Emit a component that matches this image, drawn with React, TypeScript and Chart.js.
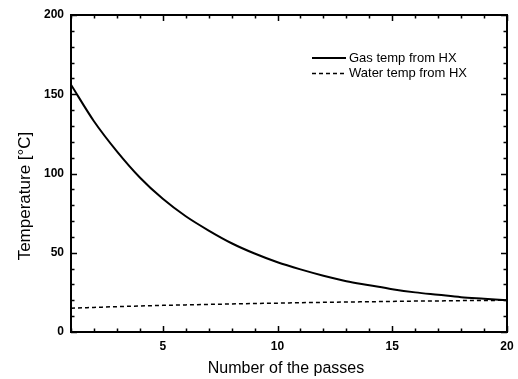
import React, { useEffect, useRef } from "react";
import { Chart, registerables } from "chart.js";

Chart.register(...registerables);

// Number of passes through the heat exchanger
const passes = [1, 2, 3, 4, 5, 6, 7, 8, 9, 10, 11, 12, 13, 14, 15, 16, 17, 18, 19, 20];
// Outlet gas temperature [°C]
const gasTemp = [156, 133, 114, 97.5, 84, 73, 64, 56, 49.5, 44, 39.5, 35.5, 32, 29.5, 27, 25, 23.5, 22, 21, 20];
// Outlet water temperature [°C]
const waterTemp = [15, 15.5, 16, 16.4, 16.8, 17.1, 17.4, 17.7, 18, 18.2, 18.5, 18.7, 18.9, 19.1, 19.3, 19.5, 19.6, 19.8, 19.9, 20];

const seriesLabels = ["Gas temp from HX", "Water temp from HX"];
const xTickValues = [5, 10, 15, 20];
const yTickValues = [0, 50, 100, 150, 200];
const xTitle = "Number of the passes";
const yTitle = "Temperature [°C]";

const FONT = '"Liberation Sans", Arial, Helvetica, sans-serif';

const framePlugin = {
  id: "frameTicksTitles",
  afterDraw(chart: any) {
    const { ctx, chartArea, scales } = chart;
    const { left, right, top, bottom } = chartArea;
    const xs = scales.x;
    const ys = scales.y;
    ctx.save();
    ctx.strokeStyle = "#000";
    ctx.fillStyle = "#000";

    // inward tick marks on all four sides
    ctx.lineWidth = 1.5;
    ctx.beginPath();
    for (const v of passes) {
      const px = Math.round(xs.getPixelForValue(v)) + 0.5;
      const len = v % 5 === 0 ? 6 : 3.5;
      ctx.moveTo(px, bottom);
      ctx.lineTo(px, bottom - len);
      ctx.moveTo(px, top);
      ctx.lineTo(px, top + len);
    }
    for (let v = ys.min; v <= ys.max; v += 10) {
      const py = Math.round(ys.getPixelForValue(v)) + 0.5;
      const len = v % 50 === 0 ? 6 : 3.5;
      ctx.moveTo(left, py);
      ctx.lineTo(left + len, py);
      ctx.moveTo(right, py);
      ctx.lineTo(right - len, py);
    }
    ctx.stroke();

    // plot frame
    ctx.lineWidth = 2;
    ctx.strokeRect(left, top, right - left, bottom - top);

    // axis titles
    ctx.textAlign = "center";
    ctx.textBaseline = "middle";
    ctx.font = `16px ${FONT}`;
    ctx.fillText(xTitle, 286, 369);
    ctx.save();
    ctx.font = `17px ${FONT}`;
    ctx.translate(25, 196);
    ctx.rotate(-Math.PI / 2);
    ctx.fillText(yTitle, 0, 0);
    ctx.restore();

    // legend
    ctx.font = `13px ${FONT}`;
    ctx.textAlign = "left";
    chart.data.datasets.forEach((ds: any, i: number) => {
      const ly = 58 + i * 15.5;
      ctx.save();
      ctx.lineWidth = ds.borderWidth;
      ctx.setLineDash(ds.borderDash || []);
      ctx.beginPath();
      ctx.moveTo(312, ly);
      ctx.lineTo(346, ly);
      ctx.stroke();
      ctx.restore();
      ctx.fillText(ds.label, 349, ly);
    });
    ctx.restore();
  },
};

export default function App() {
  const canvasRef = useRef<HTMLCanvasElement | null>(null);

  useEffect(() => {
    const canvas = canvasRef.current;
    if (!canvas) return;
    const chart = new Chart(canvas, {
      type: "line",
      data: {
        datasets: [
          {
            label: seriesLabels[0],
            data: passes.map((p, i) => ({ x: p, y: gasTemp[i] })),
            borderColor: "#000",
            borderWidth: 2,
            pointRadius: 0,
            cubicInterpolationMode: "monotone",
            fill: false,
          },
          {
            label: seriesLabels[1],
            data: passes.map((p, i) => ({ x: p, y: waterTemp[i] })),
            borderColor: "#000",
            borderWidth: 1.5,
            borderDash: [4, 3],
            pointRadius: 0,
            cubicInterpolationMode: "monotone",
            fill: false,
          },
        ],
      },
      options: {
        responsive: false,
        animation: false,
        devicePixelRatio: 1,
        layout: { padding: { left: 0, top: 15, right: 11, bottom: 0 } },
        plugins: {
          legend: { display: false },
          tooltip: { enabled: false },
        },
        scales: {
          x: {
            type: "linear",
            min: 1,
            max: 20,
            afterBuildTicks: (scale: any) => {
              scale.ticks = xTickValues.map((v) => ({ value: v }));
            },
            afterFit: (scale: any) => {
              scale.height = 47;
              scale.paddingLeft = 0;
              scale.paddingRight = 0;
            },
            grid: { display: false, drawTicks: false },
            border: { display: false },
            ticks: {
              color: "#000",
              padding: 7,
              maxRotation: 0,
              font: { family: FONT, size: 12, weight: "bold" },
            },
          },
          y: {
            type: "linear",
            min: 0,
            max: 200,
            afterBuildTicks: (scale: any) => {
              scale.ticks = yTickValues.map((v) => ({ value: v }));
            },
            afterFit: (scale: any) => {
              scale.width = 71;
              scale.paddingTop = 0;
              scale.paddingBottom = 0;
            },
            grid: { display: false, drawTicks: false },
            border: { display: false },
            ticks: {
              color: "#000",
              padding: 7,
              font: { family: FONT, size: 12, weight: "bold" },
            },
          },
        },
      },
      plugins: [framePlugin],
    } as any);
    return () => chart.destroy();
  }, []);

  return (
    <div style={{ position: "fixed", left: 0, top: 0, width: 518, height: 379, background: "#fff" }}>
      <canvas ref={canvasRef} width={518} height={379} style={{ display: "block" }} />
    </div>
  );
}
